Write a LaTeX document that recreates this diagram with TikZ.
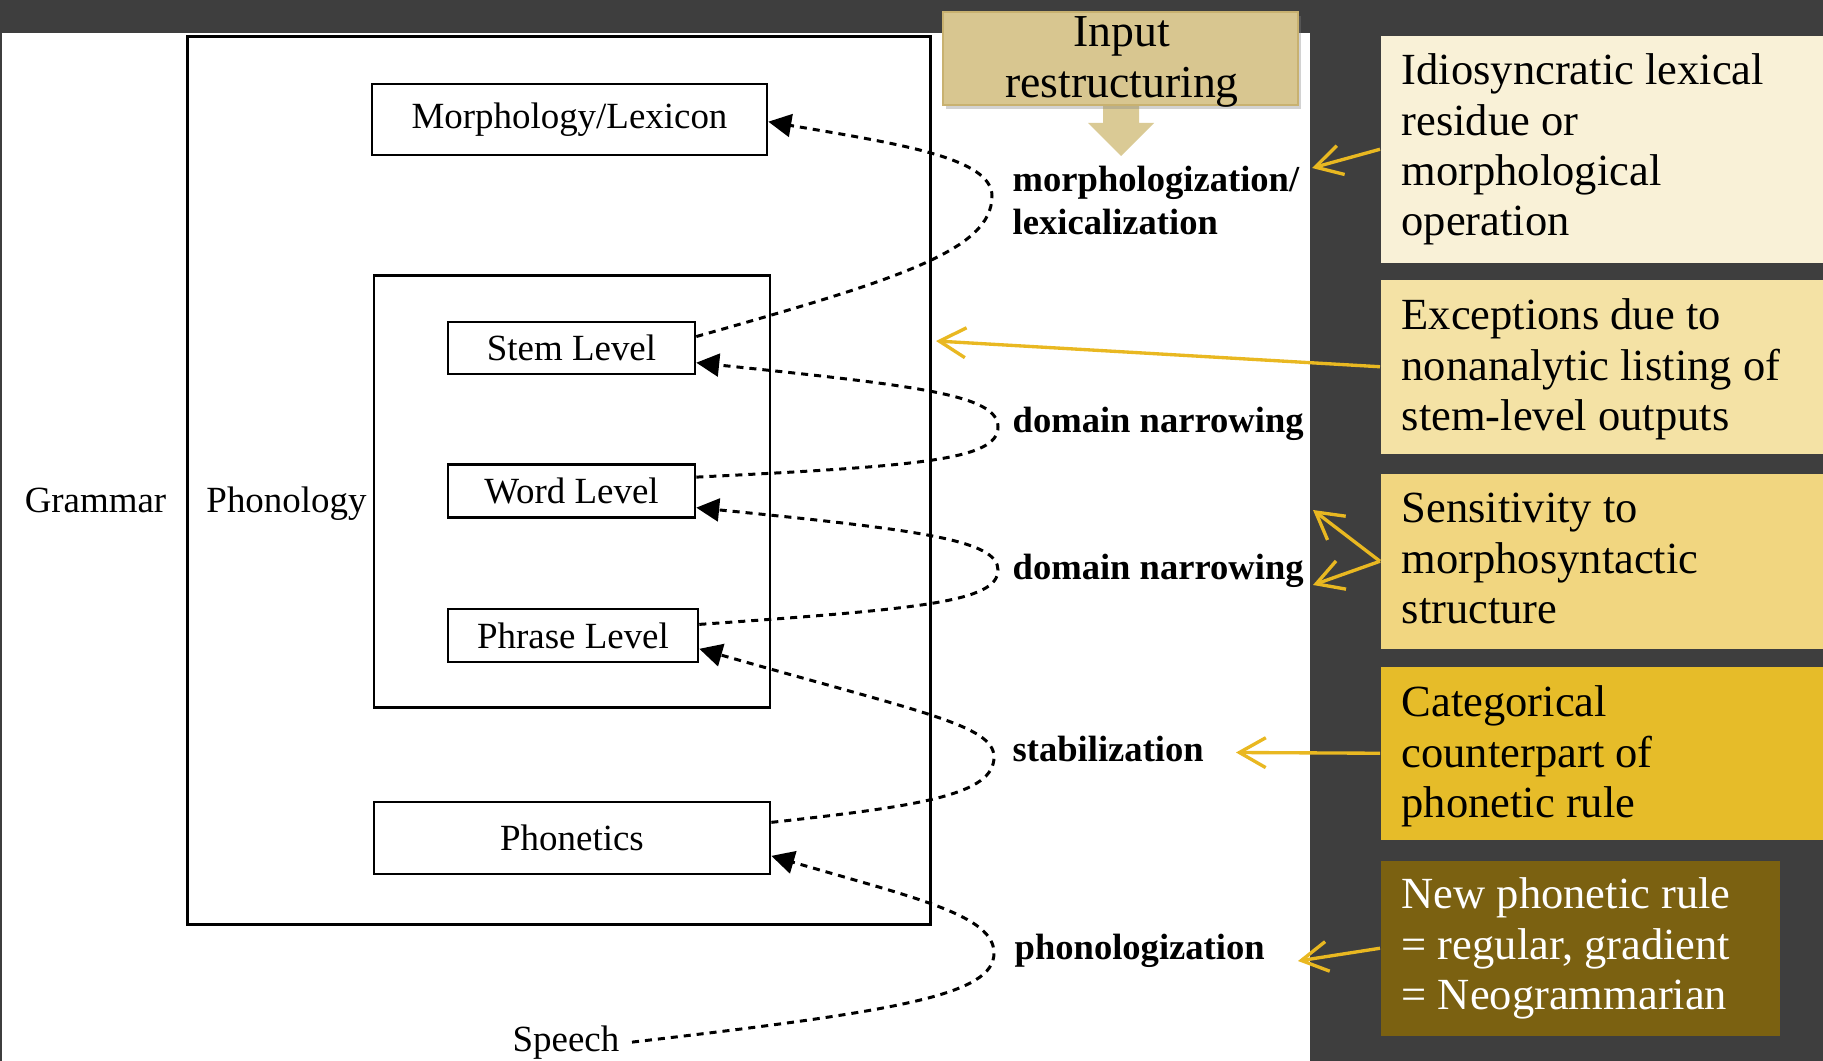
\documentclass[tikz,border=0pt]{standalone}
\usepackage{fontspec}
\setmainfont{Liberation Serif}
\usetikzlibrary{arrows.meta,calc,shadows}
\definecolor{bgdark}{HTML}{3E3E3E}
\definecolor{tanfill}{HTML}{D8C690}
\definecolor{tanedge}{HTML}{C8B170}
\definecolor{tanarrow}{HTML}{DACA95}
\definecolor{boxA}{HTML}{F9F1D7}
\definecolor{boxB}{HTML}{F4E2A5}
\definecolor{boxC}{HTML}{F1D680}
\definecolor{boxD}{HTML}{E6BC29}
\definecolor{boxE}{HTML}{7B6111}
\definecolor{ayellow}{HTML}{E9B821}
\newcommand{\leftlines}[1]{\begin{tabular}[t]{@{}l@{}}#1\end{tabular}}
\newcommand{\midlines}[1]{\begin{tabular}[t]{@{}c@{}}#1\end{tabular}}
\begin{document}
\begin{tikzpicture}[x=0.01cm,y=-0.01cm,
  lvlbox/.style={draw, line width=0.7pt, inner sep=0, font=\fontsize{10.5}{12}\selectfont},
  frame/.style={draw, line width=0.75pt, inner sep=0},
  dtext/.style={inner sep=0, font=\fontsize{10.5}{12}\selectfont},
  btext/.style={inner sep=0, anchor=base west, font=\fontsize{10.4}{11.95}\selectfont\bfseries},
  dline/.style={line width=0.85pt, dash pattern=on 2pt off 1.7pt, -{Triangle[length=6.5pt,width=6.5pt]}},
  notebox/.style={anchor=north west, inner sep=0, minimum width=4.43cm},
  notetext/.style={anchor=base west, inner sep=0, font=\fontsize{12.66}{14.23}\selectfont},
  yarrow/.style={draw=ayellow, line width=0.95pt, -{Straight Barb[length=7.5pt,width=8.5pt]}}
]
\useasboundingbox (0,0) rectangle (1823,1061);
\fill[bgdark] (0,0) rectangle (1823,1061);
\fill[white] (2,33) rectangle (1310,1061);

% frames and level boxes
\node[frame, minimum width=7.42cm, minimum height=8.87cm] (grammar) at (559,480.5) {};
\node[frame, minimum width=3.96cm, minimum height=4.32cm] (phonology) at (572,491.5) {};
\node[lvlbox, minimum width=3.95cm, minimum height=0.71cm] (morph) at (569.5,119.5) {Morphology/Lexicon};
\node[lvlbox, minimum width=2.47cm, minimum height=0.52cm] (stem) at (571.5,348) {Stem Level};
\node[lvlbox, minimum width=2.47cm, minimum height=0.53cm] (word) at (571.5,491) {Word Level};
\node[lvlbox, minimum width=2.50cm, minimum height=0.53cm] (phrase) at (573,635.5) {Phrase Level};
\node[lvlbox, minimum width=3.96cm, minimum height=0.72cm] (phonetics) at (572,838) {Phonetics};

\node[dtext, anchor=base] (grammarlbl) at (95.5,513) {Grammar};
\node[dtext, anchor=base] (phonologylbl) at (286.5,513) {Phonology};
\node[dtext, anchor=base] (speech) at (566,1051) {Speech};

% process labels
\node[btext] (lexlbl) at (1012,192) {\leftlines{morphologization/\\lexicalization}};
\node[btext] (dnA) at (1012,433) {domain narrowing};
\node[btext] (dnB) at (1012,580) {domain narrowing};
\node[btext] (stab) at (1012,762) {stabilization};
\node[btext] (phonol) at (1014,960) {phonologization};

% dashed loops
\draw[dline] ($(stem.north east)!0.29!(stem.south east)$) .. controls (900,279) and (992,250) .. (992,196)
  .. controls (992,158) and (900,144) .. ($(morph.north east)!0.53!(morph.south east)$);
\draw[dline] ($(word.north east)!0.25!(word.south east)$) .. controls (920,466) and (998,460) .. (998,427)
  .. controls (998,395) and (920,386) .. ($(stem.north east)!0.77!(stem.south east)$);
\draw[dline] ($(phrase.north east)!0.30!(phrase.south east)$) .. controls (920,609) and (998,602) .. (998,570)
  .. controls (998,540) and (920,530) .. ($(word.north east)!0.80!(word.south east)$);
\draw[dline] ($(phonetics.north east)!0.29!(phonetics.south east)$) .. controls (920,806) and (994,795) .. (994,757)
  .. controls (994,725) and (920,712) .. ($(phrase.north east)!0.74!(phrase.south east)$);
\draw[dline] ($(speech.east)+(12,0)$) .. controls (900,1011) and (994,995) .. (994,953)
  .. controls (994,915) and (915,898) .. ($(phonetics.north east)!0.74!(phonetics.south east)$);

% input restructuring
\fill[tanarrow] (1103,100) -- (1139,100) -- (1139,123) -- (1154,123) -- (1121,156) -- (1088,123) -- (1103,123) -- cycle;
\node[fill=tanfill, draw=tanedge, line width=0.4pt, minimum width=3.55cm, minimum height=0.93cm, inner sep=0,
  drop shadow={shadow xshift=0.8pt,shadow yshift=-1.2pt,opacity=0.35}] (inputbox) at (1120.5,58.5) {};
\node[anchor=base, inner sep=0, font=\fontsize{13}{14.23}\selectfont] (inputtext) at (1122,47) {\midlines{Input\\restructuring}};

% note boxes
\node[notebox, fill=boxA, minimum height=2.27cm] (noteA) at (1380,35) {};
\node[notebox, fill=boxB, minimum height=1.74cm] (noteB) at (1380,279) {};
\node[notebox, fill=boxC, minimum height=1.75cm] (noteC) at (1380,473) {};
\node[notebox, fill=boxD, minimum height=1.73cm] (noteD) at (1380,666) {};
\node[notebox, fill=boxE, minimum height=1.75cm, minimum width=3.99cm] (noteE) at (1380,860) {};

\node[notetext] (txtA) at (1401,85) {\leftlines{Idiosyncratic lexical\\residue or\\morphological\\operation}};
\node[notetext] (txtB) at (1401,330) {\leftlines{Exceptions due to\\nonanalytic listing of\\stem-level outputs}};
\node[notetext] (txtC) at (1401,523) {\leftlines{Sensitivity to\\morphosyntactic\\structure}};
\node[notetext] (txtD) at (1401,717) {\leftlines{Categorical\\counterpart of\\phonetic rule}};
\node[notetext, text=white] (txtE) at (1401,909) {\leftlines{New phonetic rule\\= regular, gradient\\= Neogrammarian}};

% yellow arrows
\coordinate (tipA) at (1312,168);
\coordinate (tipB) at (936,341);
\coordinate (tipC1) at (1313,510);
\coordinate (tipC2) at (1313,585);
\coordinate (tipD) at (1236,752.5);
\coordinate (tipE) at (1298,961);
\draw[yarrow] (noteA.west) -- (tipA);
\draw[yarrow] (noteB.west) -- (tipB);
\draw[yarrow] (noteC.west) -- (tipC1);
\draw[yarrow] (noteC.west) -- (tipC2);
\draw[yarrow] (noteD.west) -- (tipD);
\draw[yarrow] (noteE.west) -- (tipE);
\end{tikzpicture}
\end{document}
